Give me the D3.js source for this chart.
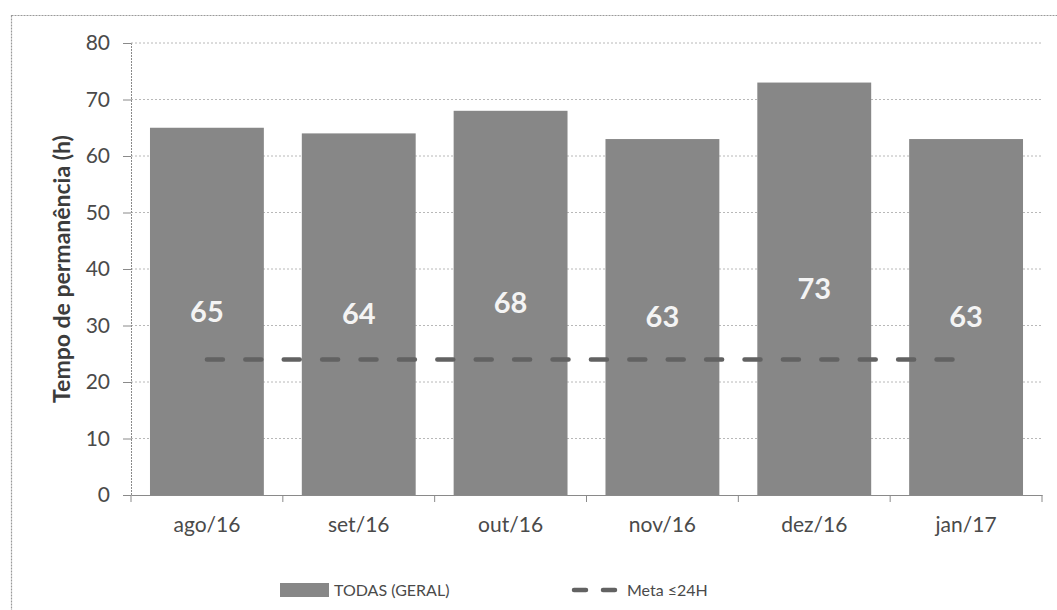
<!DOCTYPE html>
<html>
<head>
<meta charset="utf-8">
<script src="https://cdn.jsdelivr.net/npm/d3@7"></script>
<style>
  html, body { margin: 0; padding: 0; background: #fff; }
  svg { display: block; font-family: Lato, "Open Sans", sans-serif; }
</style>
</head>
<body>
<svg id="chart" width="1057" height="610"></svg>
<script>
// Average length of stay per month
const categories = ["ago/16", "set/16", "out/16", "nov/16", "dez/16", "jan/17"];
const stayHours = [65, 64, 68, 63, 73, 63];
const targetHours = [24, 24, 24, 24, 24, 24];
const yTicks = [0, 10, 20, 30, 40, 50, 60, 70, 80];
const seriesNames = ["TODAS (GERAL)", "Meta \u226424H"];

const svg = d3.select("#chart");
const margin = { left: 131, right: 15, top: 43, bottom: 115 };
const W = 1057, H = 610;

// outer frame
svg.append("rect")
  .attr("x", 11.5).attr("y", 15.5)
  .attr("width", W + 10).attr("height", H + 10)
  .attr("fill", "none").attr("stroke", "#9a9a9a").attr("stroke-width", 1.2)
  .attr("stroke-dasharray", "2,1");

const x = d3.scaleBand()
  .domain(categories)
  .range([margin.left, W - margin.right])
  .paddingInner(0.25).paddingOuter(0.125);

const y = d3.scaleLinear()
  .domain([0, 80])
  .range([H - margin.bottom, margin.top]);

// horizontal gridlines
svg.append("g")
  .selectAll("line")
  .data(yTicks.filter(d => d > 0))
  .join("line")
  .attr("x1", margin.left).attr("x2", W - margin.right)
  .attr("y1", d => y(d)).attr("y2", d => y(d))
  .attr("stroke", "#b8b8b8").attr("stroke-width", 1)
  .attr("stroke-dasharray", "2,2");

// y axis
const yAxis = svg.append("g")
  .attr("transform", `translate(${margin.left},0)`)
  .call(d3.axisLeft(y).tickValues(yTicks).tickSize(8).tickPadding(13));
yAxis.select(".domain").attr("stroke", "#8a8a8a").attr("stroke-dasharray", "2,1");
yAxis.selectAll(".tick line").attr("stroke", "#8a8a8a");
yAxis.selectAll(".tick text")
  .attr("font-size", 21).attr("fill", "#4a4a4a")
  .attr("font-family", "Lato, 'Open Sans', sans-serif");

// x axis
const xAxis = svg.append("g")
  .attr("transform", `translate(0,${y(0)})`)
  .call(d3.axisBottom(x).tickSize(0).tickPadding(22));
xAxis.select(".domain").attr("stroke", "#8a8a8a");
xAxis.selectAll(".tick text")
  .attr("font-size", 21).attr("fill", "#4a4a4a")
  .attr("font-family", "Lato, 'Open Sans', sans-serif");

// category boundary ticks
const bounds = categories.map(c => x(c) - x.step() * x.paddingInner() / 2);
bounds.push(W - margin.right);
svg.append("g").selectAll("line")
  .data(bounds)
  .join("line")
  .attr("x1", d => d).attr("x2", d => d)
  .attr("y1", y(0)).attr("y2", y(0) + 7)
  .attr("stroke", "#8a8a8a");

// bars
svg.append("g")
  .selectAll("rect")
  .data(stayHours)
  .join("rect")
  .attr("x", (d, i) => x(categories[i]))
  .attr("y", d => y(d))
  .attr("width", x.bandwidth())
  .attr("height", d => y(0) - y(d))
  .attr("fill", "#878787");

// value labels inside bars
svg.append("g")
  .selectAll("text")
  .data(stayHours)
  .join("text")
  .attr("x", (d, i) => x(categories[i]) + x.bandwidth() / 2)
  .attr("y", d => y(d / 2))
  .attr("dy", "0.35em")
  .attr("text-anchor", "middle")
  .attr("font-size", 29).attr("font-weight", "bold")
  .attr("fill", "#f4f4f4")
  .text(d => d);

// target line
const line = d3.line()
  .x((d, i) => x(categories[i]) + x.bandwidth() / 2)
  .y(d => y(d));
svg.append("path")
  .datum(targetHours)
  .attr("d", line)
  .attr("fill", "none")
  .attr("stroke", "#626262")
  .attr("stroke-width", 4.5)
  .attr("stroke-linecap", "round")
  .attr("stroke-dasharray", "16,22.4");

// y axis title
svg.append("text")
  .attr("transform", `translate(70,${y(40)}) rotate(-90)`)
  .attr("text-anchor", "middle")
  .attr("font-size", 23).attr("font-weight", "bold")
  .attr("fill", "#3c3c3c")
  .text("Tempo de perman\u00eancia (h)");

// legend
const legY = 590;
const leg = svg.append("g");
leg.append("rect")
  .attr("x", 280).attr("y", legY - 7)
  .attr("width", 49).attr("height", 14)
  .attr("fill", "#878787");
leg.append("text")
  .attr("x", 334).attr("y", legY).attr("dy", "0.35em")
  .attr("font-size", 16).attr("fill", "#4a4a4a")
  .text(seriesNames[0]);
leg.append("line")
  .attr("x1", 574).attr("x2", 616)
  .attr("y1", legY).attr("y2", legY)
  .attr("stroke", "#626262").attr("stroke-width", 4.5)
  .attr("stroke-linecap", "round")
  .attr("stroke-dasharray", "12,17");
leg.append("text")
  .attr("x", 627).attr("y", legY).attr("dy", "0.35em")
  .attr("font-size", 16).attr("fill", "#4a4a4a")
  .text(seriesNames[1]);
</script>
</body>
</html>
